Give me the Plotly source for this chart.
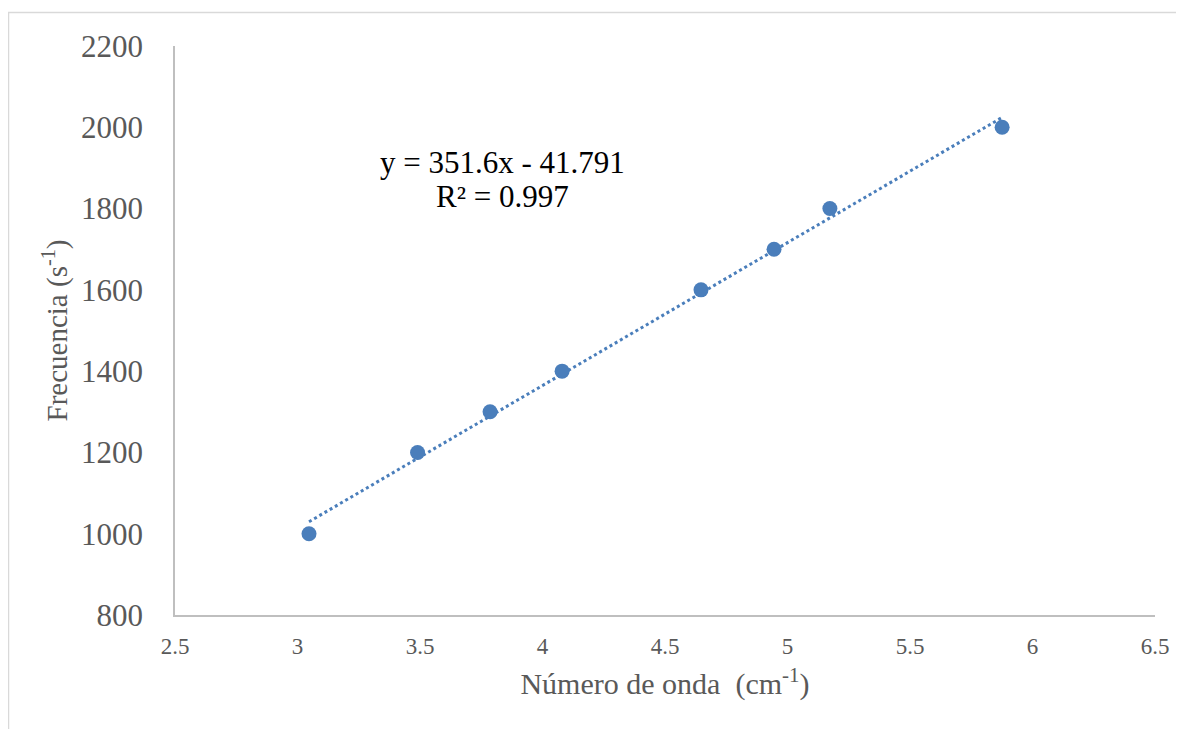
import plotly.graph_objects as go

# Data
wave_number = [3.047, 3.49, 3.786, 4.08, 4.647, 4.945, 5.173, 5.876]
frequency = [1000, 1200, 1300, 1400, 1600, 1700, 1800, 2000]
slope = 351.6
intercept = -41.791
r2 = 0.997

x_ticks = [2.5, 3, 3.5, 4, 4.5, 5, 5.5, 6, 6.5]
y_ticks = [800, 1000, 1200, 1400, 1600, 1800, 2000, 2200]

blue = "#4a7ebb"
font_family = "'Liberation Serif', Tinos, 'Times New Roman', 'DejaVu Serif', 'Noto Serif', serif"

xmin, xmax = min(wave_number), max(wave_number)
trend_x = [xmin, xmax]
trend_y = [slope * v + intercept for v in trend_x]

fig = go.Figure()
fig.add_trace(go.Scatter(
    x=trend_x, y=trend_y, mode="lines",
    line=dict(color=blue, width=3, dash="dot"),
    hoverinfo="skip", showlegend=False,
))
fig.add_trace(go.Scatter(
    x=wave_number, y=frequency, mode="markers",
    marker=dict(color=blue, size=15),
    showlegend=False,
))

OFF = 8  # page body margin
W, H = 1184 - OFF, 729 - OFF
L, R, T, B = 175 - OFF, 29, 46 - OFF, 114
pw, ph = W - L - R, H - T - B

def px_to_paper_x(px):
    return (px - OFF - L) / pw

def px_to_paper_y(py):
    return (H - B - (py - OFF)) / ph

fig.add_shape(type="rect", xref="paper", yref="paper",
              x0=px_to_paper_x(8.5), x1=px_to_paper_x(1200),
              y0=px_to_paper_y(745), y1=px_to_paper_y(12.5),
              line=dict(color="#d9d9d9", width=1.5), fillcolor="rgba(0,0,0,0)",
              layer="below")

fig.add_annotation(
    x=px_to_paper_x(502), y=px_to_paper_y(162), xref="paper", yref="paper",
    text=f"y = {slope}x - {abs(intercept)}",
    showarrow=False, align="center", yanchor="middle",
    font=dict(family=font_family, size=31, color="#000000"),
)
fig.add_annotation(
    x=px_to_paper_x(502), y=px_to_paper_y(197), xref="paper", yref="paper",
    text=f"R² = {r2}",
    showarrow=False, align="center", yanchor="middle",
    font=dict(family=font_family, size=31, color="#000000"),
)

fig.update_layout(
    width=W, height=H,
    margin=dict(l=L, r=R, t=T, b=B),
    paper_bgcolor="white", plot_bgcolor="white",
    font=dict(family=font_family, color="#595959"),
    xaxis=dict(
        range=[2.5, 6.5], tickvals=x_ticks, ticktext=[f"{v:g}" for v in x_ticks],
        showgrid=False, zeroline=False,
        showline=True, linecolor="#bfbfbf", linewidth=1.5,
        ticks="outside", ticklen=10, tickcolor="rgba(0,0,0,0)",
        tickfont=dict(family=font_family, size=23, color="#595959"),
        title=dict(text="Número de onda\u00a0 (cm<sup>-1</sup>)",
                   font=dict(family=font_family, size=30, color="#595959"), standoff=15),
    ),
    yaxis=dict(
        range=[800, 2200], tickvals=y_ticks,
        showgrid=False, zeroline=False,
        showline=True, linecolor="#bfbfbf", linewidth=1.5,
        ticks="outside", ticklen=24, tickcolor="rgba(0,0,0,0)",
        tickfont=dict(family=font_family, size=31, color="#595959"),
        title=dict(text="Frecuencia (s<sup>-1</sup>)",
                   font=dict(family=font_family, size=29, color="#595959"), standoff=5),
    ),
)

fig.write_html("out.html")
